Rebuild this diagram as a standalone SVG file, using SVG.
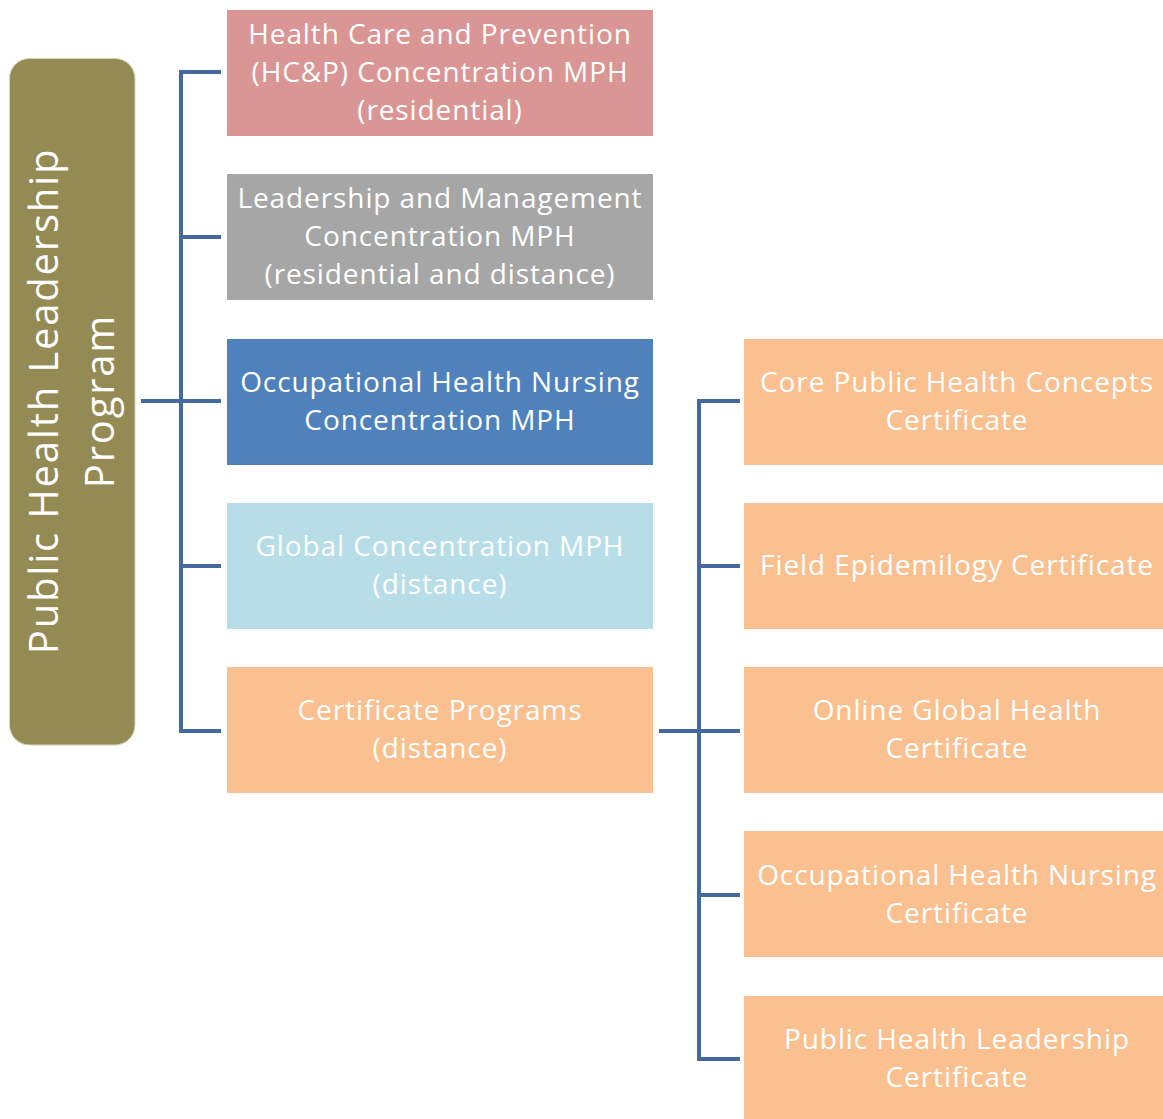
<svg xmlns="http://www.w3.org/2000/svg" width="1163" height="1119" viewBox="0 0 1163 1119">
<style>
.t{font-family:"Open Sans","Noto Sans",sans-serif;font-size:28px;letter-spacing:0.9px;fill:#fff;text-anchor:middle}
.big{font-family:"Open Sans","Noto Sans",sans-serif;font-size:40px;letter-spacing:1.8px;fill:#fff;text-anchor:middle}
.c{stroke:#44699E;stroke-width:4;fill:none}
</style>
<rect width="1163" height="1119" fill="#fff"/>
<g id="connectors">
<path class="c" d="M221 72H181V731H221M181 237H221M181 401H221M181 566H221M141 401H181"/>
<path class="c" d="M740 401H699V1059H740M699 566H740M699 731H740M699 895H740M659 731H699"/>
</g>
<g id="root">
<rect x="9.5" y="58.5" width="125.5" height="686.5" rx="20" fill="#948A54" stroke="#d8d4bf" stroke-width="1"/>
<text class="big" transform="translate(72 401) rotate(-90)"><tspan x="0" y="-14">Public Health Leadership</tspan><tspan x="0" y="42">Program</tspan></text>
</g>
<g id="n1"><rect x="227" y="10" width="426" height="126" fill="#D99694"/>
<text class="t"><tspan x="440" y="44">Health Care and Prevention</tspan><tspan x="440" y="82">(HC&amp;P) Concentration MPH</tspan><tspan x="440" y="120">(residential)</tspan></text></g>
<g id="n2"><rect x="227" y="174" width="426" height="126" fill="#A6A6A6"/>
<text class="t"><tspan x="440" y="208">Leadership and Management</tspan><tspan x="440" y="246">Concentration MPH</tspan><tspan x="440" y="284">(residential and distance)</tspan></text></g>
<g id="n3"><rect x="227" y="339" width="426" height="126" fill="#4F81BD"/>
<text class="t"><tspan x="440" y="392">Occupational Health Nursing</tspan><tspan x="440" y="430">Concentration MPH</tspan></text></g>
<g id="n4"><rect x="227" y="503" width="426" height="126" fill="#B7DEE8"/>
<text class="t"><tspan x="440" y="556">Global Concentration MPH</tspan><tspan x="440" y="594">(distance)</tspan></text></g>
<g id="n5"><rect x="227" y="667" width="426" height="126" fill="#FAC090"/>
<text class="t"><tspan x="440" y="720">Certificate Programs</tspan><tspan x="440" y="758">(distance)</tspan></text></g>
<g id="c1"><rect x="744" y="339" width="419" height="126" fill="#FAC090"/>
<text class="t"><tspan x="957" y="392">Core Public Health Concepts</tspan><tspan x="957" y="430">Certificate</tspan></text></g>
<g id="c2"><rect x="744" y="503" width="419" height="126" fill="#FAC090"/>
<text class="t"><tspan x="957" y="575">Field Epidemilogy Certificate</tspan></text></g>
<g id="c3"><rect x="744" y="667" width="419" height="126" fill="#FAC090"/>
<text class="t"><tspan x="957" y="720">Online Global Health</tspan><tspan x="957" y="758">Certificate</tspan></text></g>
<g id="c4"><rect x="744" y="831" width="419" height="126" fill="#FAC090"/>
<text class="t"><tspan x="957" y="885">Occupational Health Nursing</tspan><tspan x="957" y="923">Certificate</tspan></text></g>
<g id="c5"><rect x="744" y="996" width="419" height="123" fill="#FAC090"/>
<text class="t"><tspan x="957" y="1049">Public Health Leadership</tspan><tspan x="957" y="1087">Certificate</tspan></text></g>
</svg>
